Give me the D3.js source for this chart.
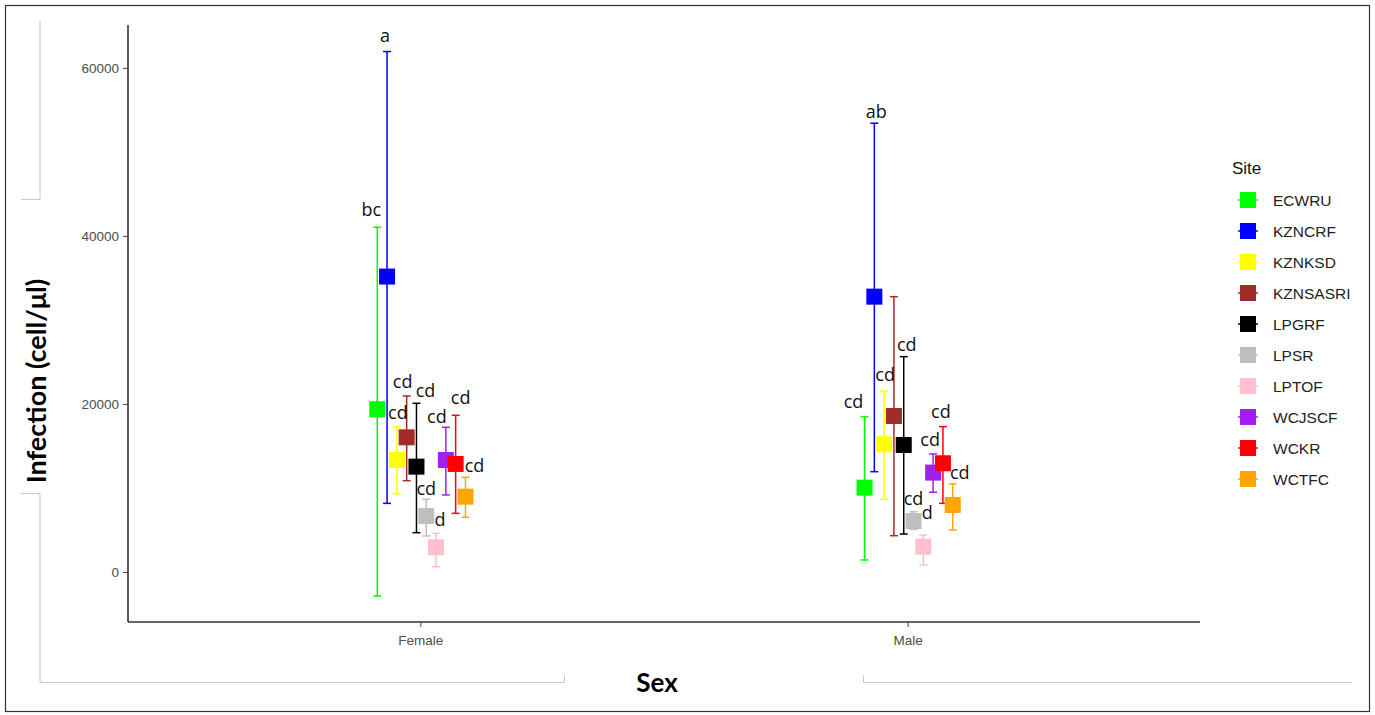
<!DOCTYPE html>
<html>
<head>
<meta charset="utf-8">
<script src="https://cdn.jsdelivr.net/npm/d3@7.9.0/dist/d3.min.js"></script>
<style>
  body { margin: 0; background: #fff; }
  svg { display: block; }
</style>
</head>
<body>
<svg id="chart" width="1375" height="715"></svg>
<script>
// Data
const sexes = ["Female", "Male"];
const sites = ["ECWRU", "KZNCRF", "KZNKSD", "KZNSASRI", "LPGRF", "LPSR", "LPTOF", "WCJSCF", "WCKR", "WCTFC"];
const siteColors = ["#00ff00", "#0000ff", "#ffff00", "#a52a2a", "#000000", "#bebebe", "#ffc0cb", "#a020f0", "#ff0000", "#ffa500"];

const femaleMean  = [19370, 35160, 13330, 16030, 12540, 6670, 2940, 13330, 12860, 8970];
const femaleLower = [-2860, 8170, 9290, 10870, 4680, 4290, 630, 9170, 6980, 6510];
const femaleUpper = [41030, 61940, 17300, 20950, 20080, 8650, 4600, 17220, 18650, 11270];
const femaleLetters = ["bc", "a", "cd", "cd", "cd", "cd", "d", "cd", "cd", "cd"];

const maleMean  = [10040, 32770, 15200, 18570, 15120, 6070, 3010, 11830, 12940, 7980];
const maleLower = [1430, 11940, 8650, 4320, 4520, 5080, 830, 9490, 8170, 5000];
const maleUpper = [18490, 53410, 21550, 32770, 25630, 7180, 4400, 14050, 17300, 10480];
const maleLetters = ["cd", "ab", "cd", "", "cd", "cd", "d", "cd", "cd", "cd"];

const yTicks = [0, 20000, 40000, 60000];

// long table built from the arrays above
const rows = [];
sites.forEach((s, i) => {
  rows.push({ sex: "Female", site: s, idx: i, mean: femaleMean[i], lo: femaleLower[i], hi: femaleUpper[i], lab: femaleLetters[i] });
  rows.push({ sex: "Male", site: s, idx: i, mean: maleMean[i], lo: maleLower[i], hi: maleUpper[i], lab: maleLetters[i] });
});

const svg = d3.select("#chart");
const plotLeft = 128, plotRight = 1200, plotTop = 25, plotBottom = 622;

// label repel offsets (px) so the letters sit like in the figure
const labelNudge = {
  Female: [[-6, -17], [-2, -16], [1, -14], [-4, -14], [9, -12], [0, -10], [4, -13], [-9, -10], [5, -17], [9, -11]],
  Male:   [[-11, -15], [2, -11], [1, -16], [0, -14], [3, -12], [0, -13], [4, -22], [-3, -14], [-2, -15], [7, -11]]
};

// outer frame of the screenshot
svg.append("rect").attr("x", 5.5).attr("y", 5.5).attr("width", 1364).attr("height", 706)
  .attr("fill", "none").attr("stroke", "#333").attr("stroke-width", 1.2);

// faint panel lines left over from the original capture
const frame = svg.append("g").attr("fill", "none").attr("stroke", "#c8c8c8").attr("stroke-width", 1);
frame.append("path").attr("d", "M40,20V199.5H21");
frame.append("path").attr("d", "M21,493.5H40V682.5H564.5V675");
frame.append("path").attr("d", "M863.5,675V682.5H1352");

const x = d3.scalePoint().domain(sexes).range([plotLeft, plotRight]).padding(0.6);
const y = d3.scaleLinear().domain([-5950, 65100]).range([plotBottom, plotTop]);
const color = d3.scaleOrdinal().domain(sites).range(siteColors);
const dodge = d3.scaleBand().domain(sites).range([-48, 50]);
const px = d => x(d.sex) + dodge(d.site) + dodge.bandwidth() / 2;

// axes
const yAxis = svg.append("g").attr("transform", `translate(${plotLeft},0)`)
  .call(d3.axisLeft(y).tickValues(yTicks).tickSize(5).tickPadding(4).tickFormat(d3.format("d")));
yAxis.select(".domain").attr("d", `M0,${plotTop}V${plotBottom}`).attr("stroke", "#333").attr("stroke-width", 1.6);
yAxis.selectAll(".tick line").attr("stroke", "#444");
yAxis.selectAll(".tick text").attr("fill", "#4d4d4d").style("font-family", "Liberation Sans, Arial, sans-serif").style("font-size", "13.5px");

const xAxis = svg.append("g").attr("transform", `translate(0,${plotBottom})`)
  .call(d3.axisBottom(x).tickSize(5).tickPadding(8));
xAxis.select(".domain").attr("d", `M${plotLeft},0H${plotRight}`).attr("stroke", "#333").attr("stroke-width", 1.6);
xAxis.selectAll(".tick line").attr("stroke", "#444");
xAxis.selectAll(".tick text").attr("fill", "#4d4d4d").style("font-family", "Liberation Sans, Arial, sans-serif").style("font-size", "13.5px");

// axis titles
svg.append("text").attr("transform", "translate(46,381) rotate(-90)")
  .attr("text-anchor", "middle").attr("fill", "#000")
  .style("font-family", "Lato, sans-serif").style("font-weight", "bold").style("font-size", "27px")
  .text("Infection (cell/μl)");
svg.append("text").attr("x", 657).attr("y", 692).attr("text-anchor", "middle").attr("fill", "#000")
  .style("font-family", "Lato, sans-serif").style("font-weight", "bold").style("font-size", "26px")
  .text("Sex");

// error bars
const bars = svg.append("g").selectAll("g").data(rows).join("g")
  .attr("stroke", d => color(d.site)).attr("stroke-width", 1.5).attr("fill", "none");
bars.append("line").attr("x1", px).attr("x2", px).attr("y1", d => y(d.lo)).attr("y2", d => y(d.hi));
bars.append("line").attr("x1", d => px(d) - 4).attr("x2", d => px(d) + 4).attr("y1", d => y(d.hi)).attr("y2", d => y(d.hi));
bars.append("line").attr("x1", d => px(d) - 4).attr("x2", d => px(d) + 4).attr("y1", d => y(d.lo)).attr("y2", d => y(d.lo));

// mean points
svg.append("g").selectAll("rect").data(rows).join("rect")
  .attr("x", d => px(d) - 8).attr("y", d => y(d.mean) - 8)
  .attr("width", 16).attr("height", 16)
  .attr("fill", d => color(d.site));

// letters above the upper whisker
svg.append("g").selectAll("text").data(rows.filter(d => d.lab)).join("text")
  .attr("x", d => px(d) + labelNudge[d.sex][d.idx][0])
  .attr("y", d => y(d.hi) + labelNudge[d.sex][d.idx][1] + 6)
  .attr("text-anchor", "middle").attr("fill", "#111")
  .style("font-family", "Open Sans, sans-serif").style("font-size", "18px")
  .text(d => d.lab);

// legend
const leg = svg.append("g").attr("transform", "translate(1232,0)");
leg.append("text").attr("x", 0).attr("y", 174).attr("fill", "#111")
  .style("font-family", "Liberation Sans, Arial, sans-serif").style("font-size", "17px").text("Site");
const item = leg.selectAll("g.item").data(sites).join("g").attr("class", "item")
  .attr("transform", (d, i) => `translate(0,${200 + i * 31})`);
item.append("line").attr("x1", 6).attr("x2", 26).attr("y1", 0).attr("y2", 0)
  .attr("stroke", d => color(d)).attr("stroke-width", 1.5);
item.append("rect").attr("x", 8).attr("y", -8).attr("width", 16).attr("height", 16).attr("fill", d => color(d));
item.append("text").attr("x", 41).attr("y", 5.5).attr("fill", "#222")
  .style("font-family", "Liberation Sans, Arial, sans-serif").style("font-size", "15.5px").text(d => d);
</script>
</body>
</html>
